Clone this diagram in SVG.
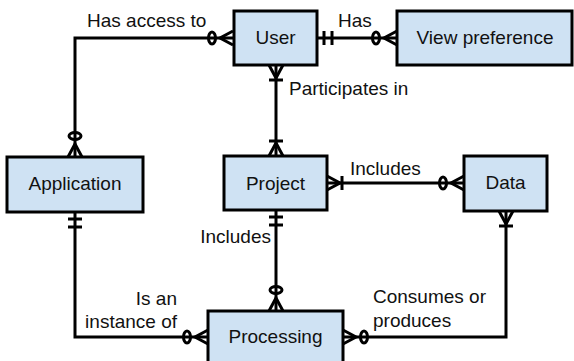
<svg xmlns="http://www.w3.org/2000/svg" xmlns:xlink="http://www.w3.org/1999/xlink" width="574" height="361" viewBox="0 0 574 361">
  <style>
    .box { fill: #cfe2f3; stroke: #000; stroke-width: 3; }
    .name { font-family: "Liberation Sans", Arial, sans-serif; font-size: 19px; fill: #111; text-anchor: middle; }
    .lbl { font-family: "Liberation Sans", Arial, sans-serif; font-size: 19px; fill: #111; }
    .end { text-anchor: end; }
    .wire { fill: none; stroke: #000; stroke-width: 3; }
    .mk { fill: none; stroke: #000; stroke-width: 3; }
  </style>
  <defs>
    <!-- crow's-foot ends, drawn with the entity edge at x=0 and the line coming in from -x -->
    <g id="zeroMany" class="mk">
      <path d="M0,-7 L-13,0 L0,7"/>
      <ellipse cx="-21" cy="0" rx="3.5" ry="6"/>
    </g>
    <g id="oneMany" class="mk">
      <path d="M0,-7 L-13,0 L0,7"/>
      <path d="M-15,-7 V7"/>
    </g>
    <g id="oneOnly" class="mk">
      <path d="M-7,-7 V7 M-15,-7 V7"/>
    </g>
  </defs>

  <g id="connectors">
    <path class="wire" d="M233,38 H75 V157"/>
    <path class="wire" d="M317,38 H397"/>
    <path class="wire" d="M276,65 V156"/>
    <path class="wire" d="M327,183 H464"/>
    <path class="wire" d="M276,210 V311"/>
    <path class="wire" d="M75,212 V337 H208"/>
    <path class="wire" d="M343,337 H506 V211"/>

    <use xlink:href="#zeroMany" transform="translate(233,38)"/>
    <use xlink:href="#zeroMany" transform="translate(75,157) rotate(90)"/>
    <use xlink:href="#oneOnly" transform="translate(317,38) rotate(180)"/>
    <use xlink:href="#zeroMany" transform="translate(397,38)"/>
    <use xlink:href="#oneMany" transform="translate(276,65) rotate(-90)"/>
    <use xlink:href="#oneMany" transform="translate(276,156) rotate(90)"/>
    <use xlink:href="#oneMany" transform="translate(327,183) rotate(180)"/>
    <use xlink:href="#zeroMany" transform="translate(464,183)"/>
    <use xlink:href="#oneOnly" transform="translate(276,210) rotate(-90)"/>
    <use xlink:href="#zeroMany" transform="translate(276,311) rotate(90)"/>
    <use xlink:href="#oneOnly" transform="translate(75,212) rotate(-90)"/>
    <use xlink:href="#zeroMany" transform="translate(208,337)"/>
    <use xlink:href="#zeroMany" transform="translate(343,337) rotate(180)"/>
    <use xlink:href="#oneMany" transform="translate(506,211) rotate(-90)"/>

    <text class="lbl" x="87" y="27">Has access to</text>
    <text class="lbl" x="338" y="27">Has</text>
    <text class="lbl" x="289" y="95">Participates in</text>
    <text class="lbl" x="350" y="175">Includes</text>
    <text class="lbl end" x="271" y="243">Includes</text>
    <text class="lbl end" x="177" y="305">Is an</text>
    <text class="lbl end" x="177" y="328">instance of</text>
    <text class="lbl" x="373" y="303">Consumes or</text>
    <text class="lbl" x="373" y="327">produces</text>
  </g>

  <g id="user">
    <rect class="box" x="234" y="11" width="83" height="54"/>
    <text class="name" x="275.5" y="44">User</text>
  </g>
  <g id="view-preference">
    <rect class="box" x="397" y="11" width="175" height="54"/>
    <text class="name" x="485" y="44">View preference</text>
  </g>
  <g id="application">
    <rect class="box" x="7" y="157" width="136" height="55"/>
    <text class="name" x="75" y="190">Application</text>
  </g>
  <g id="project">
    <rect class="box" x="224" y="156" width="103" height="54"/>
    <text class="name" x="275.5" y="190">Project</text>
  </g>
  <g id="data">
    <rect class="box" x="464" y="156" width="83" height="55"/>
    <text class="name" x="505.5" y="189">Data</text>
  </g>
  <g id="processing">
    <rect class="box" x="208" y="311" width="135" height="56"/>
    <text class="name" x="275.5" y="343">Processing</text>
  </g>
</svg>
